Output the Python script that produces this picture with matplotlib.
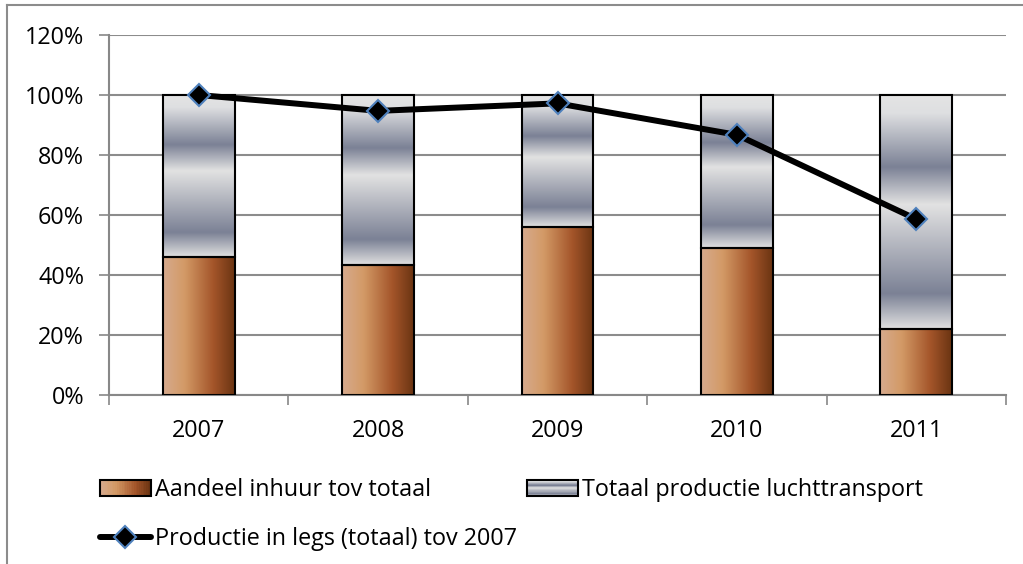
import numpy as np
import matplotlib
matplotlib.use('Agg')
import matplotlib.pyplot as plt
from matplotlib.colors import LinearSegmentedColormap
from matplotlib.patches import Rectangle
from matplotlib.lines import Line2D
from matplotlib.legend_handler import HandlerBase

plt.rcParams['font.family'] = ['Open Sans', 'DejaVu Sans']

# data
years = ['2007', '2008', '2009', '2010', '2011']
inhuur = [46.0, 43.4, 56.1, 49.1, 21.9]      # Aandeel inhuur tov totaal (%)
totaal = [100, 100, 100, 100, 100]           # Totaal productie luchttransport (%)
legs = [100.0, 94.7, 97.2, 86.7, 58.6]       # Productie in legs (totaal) tov 2007 (%)

lbl_inhuur = 'Aandeel inhuur tov totaal'
lbl_totaal = 'Totaal productie luchttransport'
lbl_legs = 'Productie in legs (totaal) tov 2007'

# gradients
orange = LinearSegmentedColormap.from_list('or', [(0, '#d6aa8e'), (0.3, '#d39a66'),
                                                  (0.7, '#a4552a'), (1, '#6a3412')])
grey = LinearSegmentedColormap.from_list('gr', [(0, '#e4e4e4'), (0.08, '#dedfe1'),
                                                (0.31, '#7b8195'), (0.47, '#e2e2e2'),
                                                (0.85, '#7b8195'), (1, '#e0e0e0')])
hgrad = np.linspace(0, 1, 256).reshape(1, -1)
vgrad = np.linspace(0, 1, 256).reshape(-1, 1)

fs = 16.8

fig = plt.figure(figsize=(10.23, 5.64), dpi=100)
ax = fig.add_axes([0.1066, 0.2996, 0.8768, 0.6384])

x = np.arange(len(years))
w = 0.4
ax.bar(x, inhuur, w, facecolor='none', edgecolor='black', linewidth=1.5, zorder=4)
top_vals = [t - i for t, i in zip(totaal, inhuur)]
ax.bar(x, top_vals, w, bottom=inhuur, facecolor='none', edgecolor='black',
       linewidth=1.5, zorder=4)

for xi, b, t in zip(x, inhuur, totaal):
    ax.imshow(hgrad, cmap=orange, aspect='auto', extent=(xi - w / 2, xi + w / 2, 0, b),
              zorder=3, interpolation='bicubic')
    ax.imshow(vgrad, cmap=grey, aspect='auto', extent=(xi - w / 2, xi + w / 2, b, t),
              zorder=3, interpolation='bicubic', origin='upper')

ax.plot(x, legs, color='black', linewidth=4.3, marker='D', markersize=11,
        markerfacecolor='black', markeredgecolor='#4f81bd', markeredgewidth=1.5,
        zorder=6, solid_capstyle='round')

ax.set_xlim(-0.5, len(years) - 0.5)
ax.set_ylim(0, 120)
ax.set_yticks(range(0, 121, 20))
ax.set_yticklabels([f'{v}%' for v in range(0, 121, 20)])
ax.set_xticks(x)
ax.set_xticklabels(years)
ax.set_xticks(np.arange(-0.5, len(years)), minor=True)
ax.tick_params(axis='x', which='major', length=0, pad=17, labelsize=fs)
ax.tick_params(axis='x', which='minor', length=7, color='#888888', width=1.2)
ax.tick_params(axis='y', length=7, color='#888888', width=1.2, pad=11, labelsize=fs)
ax.grid(axis='y', color='#8c8c8c', linewidth=1.5, zorder=0)
ax.set_axisbelow(True)
for s in ['top', 'right']:
    ax.spines[s].set_visible(False)
for s in ['left', 'bottom']:
    ax.spines[s].set_color('#888888')
    ax.spines[s].set_linewidth(1.5)


class GradHandler(HandlerBase):
    def __init__(self, cmap, vertical):
        super().__init__()
        self.cmap = cmap
        self.vertical = vertical

    def create_artists(self, legend, orig_handle, xdescent, ydescent, width, height,
                       fontsize, trans):
        arts = []
        n = 30
        y0 = -ydescent
        h = height
        for k in range(n):
            c = self.cmap(k / (n - 1)) if not self.vertical else self.cmap(1 - k / (n - 1))
            if self.vertical:
                r = Rectangle((-xdescent, y0 + h * k / n), width, h / n + 0.05,
                              facecolor=c, edgecolor='none', transform=trans)
            else:
                r = Rectangle((-xdescent + width * k / n, y0), width / n + 0.05, h,
                              facecolor=c, edgecolor='none', transform=trans)
            arts.append(r)
        arts.append(Rectangle((-xdescent, y0), width, h, facecolor='none',
                              edgecolor='black', linewidth=1.5, transform=trans))
        return arts


h_in = Rectangle((0, 0), 1, 1)
h_to = Rectangle((0, 0), 1, 1)
h_legs = Line2D([], [], color='black', linewidth=4.3, marker='D', markersize=11,
                markerfacecolor='black', markeredgecolor='#4f81bd', markeredgewidth=1.5,
                solid_capstyle='round')

fig.legend([h_in, h_legs, h_to], [lbl_inhuur, lbl_legs, lbl_totaal],
           handler_map={h_in: GradHandler(orange, False), h_to: GradHandler(grey, True)},
           ncol=2, loc='upper left', bbox_to_anchor=(0.077, 0.189), frameon=False,
           fontsize=fs, handlelength=2.2, handletextpad=0.15, columnspacing=0.45,
           labelspacing=1.05)

# chart-area border
fig.add_artist(Line2D([0.0068, 0.0068], [0, 0.991], color='#8c8c8c', linewidth=1.5,
                      transform=fig.transFigure))
fig.add_artist(Line2D([0.0068, 1.0], [0.991, 0.991], color='#8c8c8c', linewidth=1.5,
                      transform=fig.transFigure))

fig.savefig('out.png', dpi=100)
